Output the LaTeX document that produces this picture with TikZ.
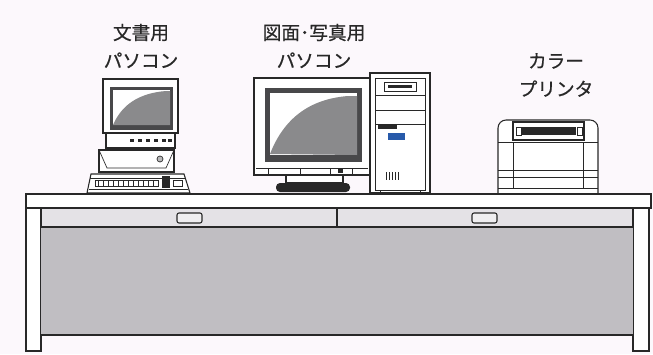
\documentclass[tikz,border=0pt]{standalone}
\usepackage{fontspec}
\newfontfamily\jpfont[FakeBold=0.6]{Noto Sans CJK JP}
\usepackage{tikz}
\definecolor{inkline}{RGB}{40,40,40}
\definecolor{paper}{RGB}{252,248,252}
\definecolor{panelgray}{RGB}{192,190,194}
\definecolor{drawergray}{RGB}{228,226,230}
\definecolor{screengray}{RGB}{138,138,140}
\definecolor{bezeldark}{RGB}{72,72,74}
\definecolor{buttonblue}{RGB}{40,90,170}

\begin{document}
\begin{tikzpicture}[x=0.75pt,y=-0.75pt,
  outline/.style={draw=inkline, line width=0.8pt},
  thinline/.style={draw=inkline, line width=0.5pt},
  pclabel/.style={font=\jpfont\fontsize{14}{21}\selectfont, text=inkline, align=center}]

  % paper
  \fill[paper] (0,0) rectangle (653,354);
  \useasboundingbox (0,0) rectangle (653,354);

  % labels
  \node[pclabel] (wordpc) at (141,46) {文書用\\パソコン};
  \node[pclabel] (photopc) at (314,46) {図面･写真用\\パソコン};
  \node[pclabel] (printer) at (556,75) {カラー\\プリンタ};

  % --- small PC: monitor
  \draw[outline, fill=white] (103,79) rectangle (178,133);
  \fill[bezeldark] (110,87) rectangle (173,130);
  \fill[white] (113,90) rectangle (170,125);
  \fill[screengray] (113,125) .. controls (122,104) and (140,93) .. (166,91)
    -- (170,91) -- (170,125) -- cycle;
  \draw[outline, fill=white] (106,133) rectangle (175,148);
  \foreach \kx in {130,138,146,154,162,168}
    \fill[inkline] (\kx,139) rectangle ++(4,3);
  % desktop case
  \draw[outline, fill=white] (99,150) rectangle (174,172);
  \draw[thinline] (99,150) -- (107,168) -- (166,168) -- (174,150);
  \draw[thinline, fill=screengray!60] (160,159) circle (3);
  % keyboard
  \draw[outline, fill=white] (87,193) -- (91,174) -- (184,174) -- (190,193) -- cycle;
  \draw[thinline] (90,178) -- (185,178);
  \draw[thinline] (89,189) -- (188,189);
  \draw[thinline] (95,180) rectangle (158,186);
  \foreach \kx in {98,103,...,153}
    \draw[thinline] (\kx,180) -- (\kx,186);
  \fill[inkline] (162,176) rectangle (170,188);
  \draw[thinline] (173,180) rectangle (182,186);

  % --- photo PC: monitor
  \draw[outline, fill=white] (254,78) rectangle (370,175);
  \fill[bezeldark] (265,88) rectangle (362,162);
  \fill[white] (270,93) rectangle (357,155);
  \fill[screengray] (270,154) .. controls (284,118) and (310,99) .. (348,96)
    -- (357,96) -- (357,155) -- cycle;
  \draw[thinline] (256,168) -- (368,168);
  \foreach \bx in {268,300,330,352}
    \draw[thinline] (\bx,168) -- (\bx,175);
  \fill[inkline] (338,169) rectangle ++(5,4);
  % stand
  \draw[outline, fill=white] (286,175) rectangle (343,183);
  \fill[inkline, rounded corners=3pt] (276,183) rectangle (350,192);
  % tower
  \draw[outline, fill=white] (370,73) rectangle (430,193);
  \draw[thinline] (375,78) -- (375,190) -- (425,190) -- (425,78) -- cycle;
  \draw[thinline] (384,82) rectangle (416,91);
  \fill[inkline] (388,85) rectangle (412,88);
  \foreach \by in {95,110,124}
    \draw[thinline] (375,\by) -- (425,\by);
  \fill[inkline] (378,125) rectangle (397,129);
  \fill[buttonblue] (388,133) rectangle (405,140);
  \foreach \vx in {386,389,...,398}
    \draw[thinline] (\vx,172) -- (\vx,180);
  \draw[thinline] (380,190) -- (380,193);
  \draw[thinline] (420,190) -- (420,193);

  % --- colour printer
  \draw[outline, fill=white] (498,194) -- (498,128) arc (180:270:8) -- (590,120)
    arc (270:360:8) -- (598,194);
  \draw[outline, fill=white] (513,122) rectangle (584,140);
  \fill[inkline] (522,127) rectangle (576,135);
  \draw[thinline] (516,127) rectangle (521,135);
  \draw[thinline] (577,127) rectangle (582,135);
  \draw[thinline] (498,142) -- (598,142);
  \draw[thinline] (498,170) -- (598,170);
  \draw[thinline] (498,177) -- (598,177);
  \draw[thinline] (513,142) -- (513,188) -- (583,188) -- (583,142);
  \draw[thinline] (498,188) -- (598,188);

  % --- desk
  \draw[outline, fill=white] (26,194) rectangle (651,208);
  \draw[outline, fill=white] (26,208) rectangle (41,351);
  \draw[outline, fill=white] (633,208) rectangle (649,351);
  \draw[outline, fill=drawergray] (41,208) rectangle (633,227);
  \draw[outline] (337,208) -- (337,227);
  \fill[panelgray] (41,227) rectangle (633,335);
  \draw[inkline, line width=1.4pt] (41,227) -- (633,227);
  \draw[inkline, line width=1.4pt] (41,335) -- (633,335);
  % drawer handles
  \foreach \hx in {177,472}
    \draw[outline, fill=drawergray!60, rounded corners=1.5pt] (\hx,213) rectangle ++(25,10);
\end{tikzpicture}
\end{document}
